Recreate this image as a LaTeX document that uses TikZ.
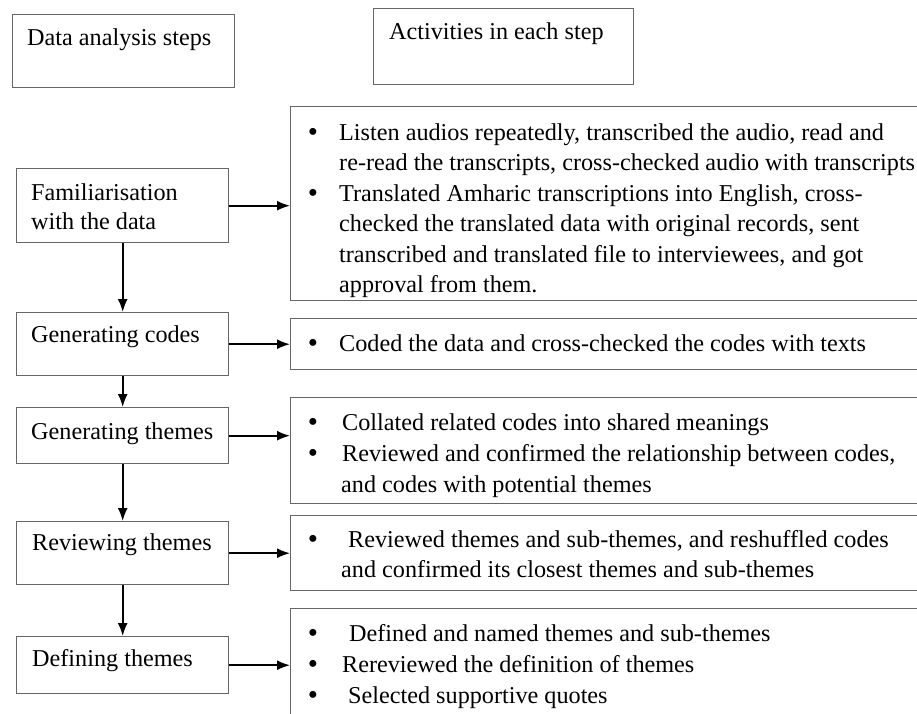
\documentclass[tikz,border=0pt]{standalone}
\usepackage{fontspec}
\setmainfont{Liberation Serif}
\usetikzlibrary{arrows.meta}
\begin{document}
\begin{tikzpicture}[x=1pt,y=-1pt,
  box/.style={draw=black!60, line width=1.4pt, anchor=north west, inner sep=0pt, minimum width=212pt},
  rbox/.style={draw=black!60, line width=1.4pt, anchor=north west, inner sep=0pt, minimum width=640pt},
  txt/.style={anchor=base west, inner sep=0pt, font=\fontsize{24.2}{30}\selectfont},
  bul/.style={anchor=base, inner sep=0pt, font=\fontsize{29}{30}\selectfont},
  arr/.style={-{Latex[length=13pt,width=10pt]}, line width=1.8pt}]
\useasboundingbox[fill=white] (0,0) rectangle (917,713);

% header boxes
\node[box, minimum width=222pt, minimum height=73pt] (hA) at (12,14) {};
\node[txt] (hAt) at (27,45) {Data analysis steps};
\node[box, minimum width=260pt, minimum height=76pt] (hB) at (373,8) {};
\node[txt] (hBt) at (389,39) {Activities in each step};

% left step boxes
\node[box, minimum height=74pt] (L1) at (16,168) {};
\node[box, minimum height=63pt] (L2) at (16,312) {};
\node[box, minimum height=56pt] (L3) at (16,407) {};
\node[box, minimum height=63pt] (L4) at (16,521) {};
\node[box, minimum height=57pt] (L5) at (16,636) {};

\node[txt] (L1a) at (31,200) {Familiarisation};
\node[txt] (L1b) at (31,229) {with the data};
\node[txt] (L2t) at (31,342) {Generating codes};
\node[txt] (L3t) at (31,439) {Generating themes};
\node[txt] (L4t) at (32,550) {Reviewing themes};
\node[txt] (L5t) at (32,666) {Defining themes};

% right activity boxes
\node[rbox, minimum height=194pt] (R1) at (290,106) {};
\node[rbox, minimum height=51pt] (R2) at (290,318) {};
\node[rbox, minimum height=106pt] (R3) at (290,397) {};
\node[rbox, minimum height=75pt] (R4) at (290,515) {};
\node[rbox, minimum height=140pt] (R5) at (290,608) {};

% R1 text
\node[bul] (b11) at (313,141) {•};
\node[txt] (r11) at (339,140) {Listen audios repeatedly, transcribed the audio, read and};
\node[txt] (r12) at (339,170) {re-read the transcripts, cross-checked audio with transcripts};
\node[bul] (b12) at (313,202) {•};
\node[txt] (r13) at (339,201) {Translated Amharic transcriptions into English, cross-};
\node[txt] (r14) at (339,231) {checked the translated data with original records, sent};
\node[txt] (r15) at (339,262) {transcribed and translated file to interviewees, and got};
\node[txt] (r16) at (339,292) {approval from them.};

% R2 text
\node[bul] (b21) at (313,352) {•};
\node[txt] (r21) at (339,351) {Coded the data and cross-checked the codes with texts};

% R3 text
\node[bul] (b31) at (313,431) {•};
\node[txt] (r31) at (342,430) {Collated related codes into shared meanings};
\node[bul] (b32) at (313,462) {•};
\node[txt] (r32) at (342,461) {Reviewed and confirmed the relationship between codes,};
\node[txt] (r33) at (341,492) {and codes with potential themes};

% R4 text
\node[bul] (b41) at (313,548) {•};
\node[txt] (r41) at (348,547) {Reviewed themes and sub-themes, and reshuffled codes};
\node[txt] (r42) at (341,577) {and confirmed its closest themes and sub-themes};

% R5 text
\node[bul] (b51) at (313,642) {•};
\node[txt] (r51) at (349,641) {Defined and named themes and sub-themes};
\node[bul] (b52) at (313,673) {•};
\node[txt] (r52) at (342,672) {Rereviewed the definition of themes};
\node[bul] (b53) at (313,704) {•};
\node[txt] (r53) at (348,703) {Selected supportive quotes};

% arrows
\draw[arr] (L1.east) -- (L1.east -| R1.west);
\draw[arr] (L2.east) -- (L2.east -| R2.west);
\draw[arr] (L3.east) -- (L3.east -| R3.west);
\draw[arr] (L4.east) -- (L4.east -| R4.west);
\draw[arr] (L5.east) -- (L5.east -| R5.west);
\draw[arr] (L1.south) -- (L2.north);
\draw[arr] (L2.south) -- (L3.north);
\draw[arr] (L3.south) -- (L4.north);
\draw[arr] (L4.south) -- (L5.north);
\end{tikzpicture}
\end{document}
